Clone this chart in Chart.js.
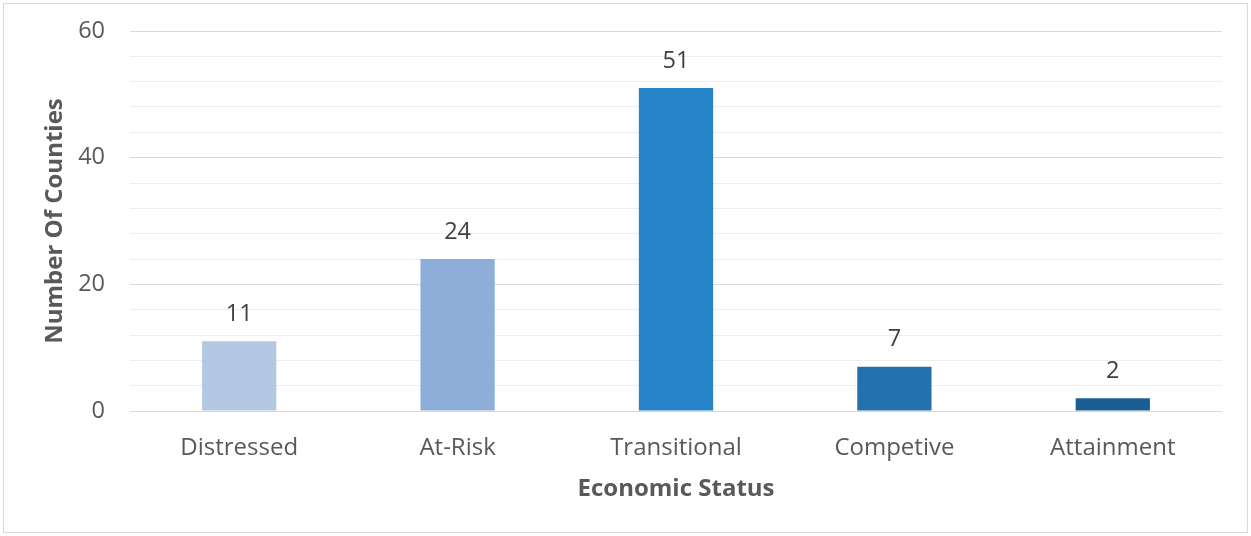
<!DOCTYPE html>
<html>
<head>
<meta charset="utf-8">
<script src="https://cdn.jsdelivr.net/npm/chart.js@4/dist/chart.umd.min.js"></script>
<style>
  html, body { margin: 0; padding: 0; background: #ffffff; }
  #wrap { position: relative; width: 1251px; height: 536px; }
  #frame { position: absolute; left: 3px; top: 3px; width: 1243px; height: 528px; border: 1px solid #d9d9d9; pointer-events: none; }
  canvas { position: absolute; left: 0; top: 0; }
</style>
</head>
<body>
<div id="wrap">
  <canvas id="chart" width="1251" height="536"></canvas>
  <div id="frame"></div>
</div>
<script>
// Counties by economic status
const categories = ['Distressed', 'At-Risk', 'Transitional', 'Competive', 'Attainment'];
const counties = [11, 24, 51, 7, 2];
const barColors = ['#b4c7e3', '#8eadd8', '#2683c7', '#2371ad', '#1b5e94'];
const yMax = 60;
const yStep = 4;
const labelEvery = 20;

const FONT = "'Open Sans', 'Noto Sans', sans-serif";

// Writes each bar's value above it
const valueLabels = {
  id: 'valueLabels',
  afterDatasetsDraw(chart) {
    const { ctx } = chart;
    const meta = chart.getDatasetMeta(0);
    ctx.save();
    ctx.font = "23.5px " + FONT;
    ctx.fillStyle = '#404040';
    ctx.textAlign = 'center';
    ctx.textBaseline = 'middle';
    meta.data.forEach((bar, i) => {
      ctx.fillText(String(chart.data.datasets[0].data[i]), bar.x, bar.y - 27);
    });
    ctx.restore();
  }
};

new Chart(document.getElementById('chart'), {
  type: 'bar',
  data: {
    labels: categories,
    datasets: [{
      data: counties,
      backgroundColor: barColors,
      borderWidth: 0,
      barPercentage: 0.34,
      categoryPercentage: 1.0
    }]
  },
  options: {
    responsive: false,
    animation: false,
    events: [],
    layout: { padding: { left: 20, right: 29, top: 31, bottom: 32 } },
    plugins: {
      legend: { display: false },
      tooltip: { enabled: false }
    },
    scales: {
      x: {
        grid: { display: false, drawTicks: false },
        border: { display: false },
        ticks: { color: '#595959', font: { family: FONT, size: 24 }, padding: 23 },
        title: {
          display: true,
          text: 'Economic Status',
          color: '#595959',
          font: { family: FONT, size: 24, weight: 'bold' },
          padding: { top: 0, bottom: 0 }
        },
        afterFit(scale) {
          scale.height = 536 - 411 - 32;
          scale.paddingLeft = 0;
          scale.paddingRight = 0;
        }
      },
      y: {
        min: 0,
        max: yMax,
        grid: {
          drawTicks: false,
          color: (c) => (c.tick && c.tick.value % labelEvery === 0) ? '#d9d9d9' : '#eeeeee',
          lineWidth: 1
        },
        border: { display: false },
        ticks: {
          stepSize: yStep,
          color: '#595959',
          font: { family: FONT, size: 23.5 },
          padding: 25,
          autoSkip: false,
          callback: (v) => (v % labelEvery === 0 ? String(v) : '')
        },
        title: {
          display: true,
          text: 'Number Of Counties',
          color: '#595959',
          font: { family: FONT, size: 24, weight: 'bold' },
          padding: { top: 21, bottom: 0 }
        },
        afterFit(scale) {
          scale.width = 130 - 20;
          scale.paddingTop = 0;
          scale.paddingBottom = 0;
        }
      }
    }
  },
  plugins: [valueLabels]
});
</script>
</body>
</html>
